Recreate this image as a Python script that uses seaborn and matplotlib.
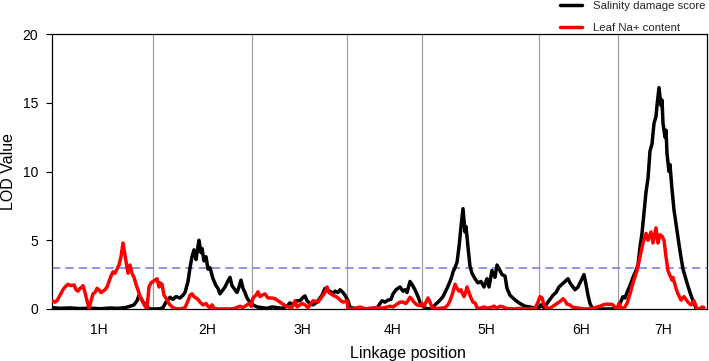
import numpy as np
import pandas as pd
import seaborn as sns
import matplotlib.pyplot as plt

# =============================================================================
# Data (genome-wide linkage position in cM, LOD value)
# =============================================================================

chrom_labels = ["1H", "2H", "3H", "4H", "5H", "6H", "7H"]
chrom_bounds = [0, 101, 200, 295, 370, 487, 566, 655]
label_pos = [47, 155, 250, 341, 434, 529, 611]
threshold = 3.0

salinity_pos = [
    0, 8, 18, 28, 38, 48, 58, 66, 73, 78, 82, 85, 87, 89, 91, 93, 96, 98, 103, 108,
    111, 114, 118, 121, 124, 128, 131, 133, 136, 138, 140, 142, 144, 145, 147, 149, 150, 152, 154, 156,
    158, 161, 164, 166, 168, 170, 173, 175, 178, 180, 182, 185, 187, 189, 191, 193, 195, 198, 201, 205,
    210, 215, 220, 225, 230, 235, 238, 241, 245, 248, 251, 253, 255, 258, 261, 265, 268, 270, 273, 275,
    278, 281, 283, 286, 288, 291, 293, 296, 298, 303, 308, 313, 318, 323, 326, 328, 330, 333, 336, 339,
    341, 344, 346, 348, 351, 353, 355, 358, 360, 363, 366, 368, 371, 374, 378, 381, 383, 386, 388, 391,
    393, 395, 398, 400, 401, 403, 405, 407, 409, 411, 413, 414, 416, 418, 420, 423, 426, 429, 432, 435,
    437, 440, 443, 445, 448, 450, 453, 455, 458, 461, 464, 468, 473, 478, 483, 487, 489, 492, 495, 498,
    501, 504, 507, 510, 513, 516, 518, 520, 523, 526, 528, 530, 532, 534, 536, 538, 540, 543, 548, 553,
    558, 563, 566, 568, 571, 573, 575, 578, 581, 584, 586, 588, 590, 592, 594, 596, 598, 600, 602, 604,
    605, 607, 609, 610, 611, 613, 614, 615, 617, 618, 620, 622, 625, 628, 631, 635, 638, 641, 644, 648,
]
salinity_lod = [
    0.1, 0.05, 0.08, 0.03, 0.06, 0.02, 0.07, 0.05, 0.1, 0.2, 0.3, 0.6, 1.0, 0.8, 0.5, 0.4, 0.1, 0.0, 0.0, 0.02,
    0.1, 0.5, 0.85, 0.7, 0.9, 0.8, 1.0, 1.2, 2.0, 3.0, 3.8, 4.3, 3.6, 4.1, 5.0, 4.1, 4.4, 3.5, 3.8, 2.9,
    3.0, 2.2, 1.7, 1.5, 1.1, 1.3, 1.6, 1.9, 2.3, 1.7, 1.5, 1.2, 1.6, 2.1, 1.5, 1.2, 0.8, 0.5, 0.3, 0.15,
    0.1, 0.05, 0.15, 0.1, 0.05, 0.2, 0.45, 0.3, 0.6, 0.6, 0.85, 0.95, 0.6, 0.4, 0.3, 0.5, 0.8, 1.0, 1.5, 1.3,
    1.3, 1.1, 1.3, 1.2, 1.4, 1.2, 1.0, 0.6, 0.1, 0.05, 0.1, 0.0, 0.05, 0.05, 0.15, 0.4, 0.6, 0.5, 0.65, 0.7,
    1.1, 1.4, 1.5, 1.6, 1.3, 1.4, 1.2, 2.0, 1.8, 1.4, 0.9, 0.5, 0.2, 0.05, 0.0, 0.1, 0.3, 0.5, 0.65, 0.9,
    1.2, 1.5, 2.0, 2.4, 2.7, 3.0, 3.4, 4.5, 6.0, 7.3, 5.6, 6.0, 4.5, 3.1, 2.6, 2.2, 1.9, 2.0, 1.6, 2.2,
    1.6, 2.8, 2.3, 3.2, 2.8, 2.5, 2.4, 1.5, 1.0, 0.8, 0.6, 0.4, 0.2, 0.15, 0.05, 0.1, 0.3, 0.1, 0.4, 0.7,
    1.0, 1.2, 1.6, 1.8, 2.0, 2.2, 1.9, 1.7, 1.4, 1.6, 1.9, 2.2, 2.5, 1.8, 1.0, 0.4, 0.1, 0.0, 0.0, 0.0,
    0.0, 0.02, 0.15, 0.4, 0.9, 0.8, 1.2, 1.7, 2.3, 2.8, 3.2, 4.5, 5.5, 7.0, 8.5, 9.5, 11.5, 12.0, 13.5, 14.0,
    14.8, 16.1, 14.8, 15.2, 13.5, 12.5, 13.0, 11.3, 10.0, 10.5, 8.7, 7.2, 5.7, 4.2, 2.9, 1.9, 1.2, 0.6, 0.05, 0.0,
]

sodium_pos = [
    0, 3, 5, 8, 11, 13, 16, 19, 22, 24, 26, 28, 30, 31, 33, 35, 37, 39, 41, 43,
    45, 47, 49, 51, 53, 55, 57, 59, 61, 63, 65, 67, 69, 71, 73, 75, 76, 78, 80, 82,
    84, 86, 88, 91, 93, 95, 97, 99, 101, 103, 105, 107, 108, 110, 112, 114, 116, 118, 121, 124,
    128, 133, 136, 138, 140, 142, 144, 146, 148, 151, 154, 156, 158, 160, 162, 166, 173, 178, 183, 188,
    191, 194, 197, 199, 201, 204, 206, 208, 210, 213, 216, 220, 223, 226, 230, 233, 236, 240, 243, 245,
    248, 250, 253, 256, 258, 261, 264, 266, 268, 270, 273, 275, 277, 279, 281, 284, 286, 289, 291, 293,
    295, 296, 303, 308, 311, 318, 323, 328, 333, 338, 341, 344, 348, 351, 354, 356, 358, 360, 362, 365,
    368, 370, 372, 374, 376, 378, 380, 384, 388, 393, 396, 398, 400, 402, 403, 405, 407, 409, 410, 412,
    414, 415, 417, 419, 421, 423, 425, 428, 432, 435, 438, 442, 445, 448, 451, 454, 458, 463, 468, 473,
    478, 483, 486, 488, 490, 492, 494, 498, 501, 504, 507, 509, 511, 513, 515, 518, 520, 523, 528, 533,
    538, 543, 548, 551, 554, 558, 561, 563, 565, 567, 569, 572, 575, 578, 581, 585, 588, 591, 594, 596,
    599, 601, 604, 606, 608, 610, 612, 614, 616, 617, 620, 621, 624, 626, 629, 632, 636, 639, 642, 645,
    648, 650, 652,
]
sodium_lod = [
    0.6, 0.5, 0.6, 1.0, 1.4, 1.6, 1.8, 1.7, 1.75, 1.4, 1.3, 1.5, 1.6, 1.7, 1.2, 0.6, 0.05, 0.6, 1.1, 1.2,
    1.5, 1.4, 1.2, 1.3, 1.4, 1.6, 2.0, 2.4, 2.7, 2.6, 2.9, 3.2, 3.8, 4.8, 3.9, 3.0, 2.6, 3.2, 2.6, 2.3,
    1.8, 1.4, 0.9, 0.5, 0.2, 0.02, 1.6, 1.9, 2.0, 2.1, 2.2, 1.6, 1.9, 1.8, 1.0, 0.8, 0.5, 0.3, 0.1, 0.02,
    0.0, 0.1, 0.6, 1.0, 1.1, 0.9, 0.8, 0.7, 0.5, 0.3, 0.4, 0.2, 0.1, 0.3, 0.05, 0.0, 0.0, 0.0, 0.05, 0.2,
    0.1, 0.25, 0.4, 0.2, 0.8, 1.0, 1.25, 0.9, 1.0, 1.1, 0.8, 0.8, 0.75, 0.6, 0.4, 0.25, 0.15, 0.1, 0.6, 0.15,
    0.3, 0.4, 0.3, 0.1, 0.3, 0.6, 0.55, 0.5, 0.7, 0.9, 1.2, 1.6, 1.2, 1.1, 1.0, 0.9, 0.8, 0.6, 0.5, 0.55,
    0.6, 0.0, 0.0, 0.15, 0.05, 0.0, 0.1, 0.05, 0.1, 0.2, 0.15, 0.3, 0.5, 0.5, 0.4, 0.6, 0.85, 0.7, 0.5, 0.3,
    0.25, 0.4, 0.2, 0.5, 0.8, 0.5, 0.1, 0.02, 0.05, 0.1, 0.3, 0.6, 1.0, 1.5, 1.8, 1.5, 1.3, 1.4, 1.2, 0.9,
    1.3, 1.6, 1.2, 0.8, 0.5, 0.45, 0.1, 0.05, 0.15, 0.05, 0.1, 0.2, 0.05, 0.2, 0.15, 0.05, 0.02, 0.0, 0.05, 0.0,
    0.0, 0.05, 0.5, 0.9, 0.8, 0.3, 0.1, 0.05, 0.2, 0.35, 0.5, 0.6, 0.75, 0.6, 0.35, 0.3, 0.15, 0.1, 0.05, 0.0,
    0.02, 0.1, 0.2, 0.3, 0.35, 0.35, 0.3, 0.1, 0.0, 0.4, 0.1, 0.05, 0.4, 1.1, 1.9, 2.8, 3.8, 4.8, 5.5, 5.0,
    5.6, 4.8, 5.9, 4.8, 5.4, 5.3, 5.0, 3.8, 2.8, 2.6, 2.1, 2.3, 1.5, 1.1, 0.65, 0.9, 0.5, 0.3, 0.6, 0.0,
    0.02, 0.15, 0.1,
]

trait_names = ["Salinity damage score", "Leaf Na+ content"]
trait_colors = ["black", "#ff0000"]

df = pd.concat([
    pd.DataFrame({"pos": salinity_pos, "LOD": salinity_lod, "trait": trait_names[0]}),
    pd.DataFrame({"pos": sodium_pos, "LOD": sodium_lod, "trait": trait_names[1]}),
])

# =============================================================================
# Plot
# =============================================================================

sns.set_theme(style="white")
plt.rcParams["font.family"] = ["Liberation Sans", "DejaVu Sans"]

fig = plt.figure(figsize=(7.09, 3.61), dpi=100)
ax = fig.add_axes([52 / 709, 1 - 309 / 361, 655 / 709, 275 / 361])

for b in chrom_bounds[1:-1]:
    ax.axvline(b, color="#a0a0a0", linewidth=0.9, zorder=1)

ax.axhline(threshold, color="#8080e8", linestyle=(0, (5, 3)), linewidth=1.2, zorder=2)

sns.lineplot(
    data=df,
    x="pos",
    y="LOD",
    hue="trait",
    hue_order=trait_names,
    palette=trait_colors,
    estimator=None,
    sort=False,
    linewidth=2.5,
    ax=ax,
    zorder=3,
)

ax.set_xlim(chrom_bounds[0], chrom_bounds[-1])
ax.set_ylim(0, 20)
ax.set_yticks([0, 5, 10, 15, 20])
ax.set_xticks(label_pos)
ax.set_xticklabels(chrom_labels)

ax.tick_params(axis="y", which="major", left=True, length=4, width=0.8, pad=6,
               labelsize=10, colors="black")
ax.tick_params(axis="x", which="major", bottom=False, length=0, pad=10,
               labelsize=10, colors="black")

for side in ["left", "right", "top", "bottom"]:
    ax.spines[side].set_visible(True)
    ax.spines[side].set_color("black")
    ax.spines[side].set_linewidth(0.9)

ax.set_xlabel("Linkage position", fontsize=11.5, color="black")
ax.set_ylabel("LOD Value", fontsize=11.5, color="black")
ax.xaxis.set_label_coords((408 - 52) / 655, -37 / 275)
ax.yaxis.set_label_coords(-36 / 655, 0.5)

sns.move_legend(
    ax,
    "upper left",
    bbox_to_anchor=(560 / 709, 1.0 - 1 / 361),
    bbox_transform=fig.transFigure,
    frameon=False,
    title=None,
    fontsize=8.2,
    borderpad=0,
    borderaxespad=0,
    labelspacing=1.05,
    handlelength=1.9,
    handletextpad=1.0,
)
for line in ax.get_legend().get_lines():
    line.set_linewidth(2.5)

plt.savefig("out.png", dpi=100)
